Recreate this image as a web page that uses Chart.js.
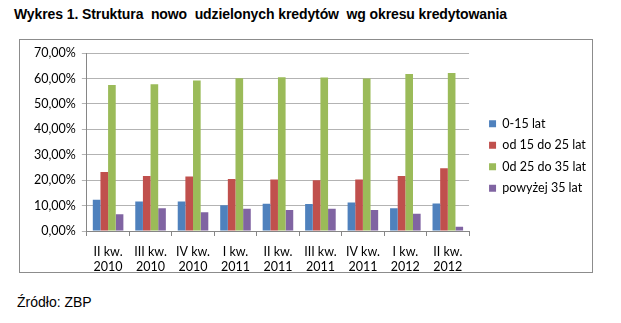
<!DOCTYPE html>
<html>
<head>
<meta charset="utf-8">
<script src="https://cdn.jsdelivr.net/npm/chart.js@4"></script>
<style>
  body { margin: 0; width: 621px; height: 323px; background: #fff; position: relative; overflow: hidden; font-family: "Liberation Sans", Arial, sans-serif; }
  #tytul { position: absolute; left: 14px; top: 6px; font-size: 14px; letter-spacing: -0.1px; font-weight: bold; color: #000; white-space: pre; }
  #ramka { position: absolute; left: 19px; top: 39px; width: 572px; height: 232px; border: 1px solid #8c8c8c; background: #fff; }
  #zrodlo { position: absolute; left: 17px; top: 294px; font-size: 14px; color: #000; }
</style>
</head>
<body>
<div id="tytul">Wykres 1. Struktura  nowo  udzielonych kredytów  wg okresu kredytowania</div>
<div id="ramka"><canvas id="wykres" width="572" height="232"></canvas></div>
<div id="zrodlo">Źródło: ZBP</div>
<script>
// kwartały i udziały (%)
const kwartaly = [
  ['II kw.', '2010'], ['III kw.', '2010'], ['IV kw.', '2010'],
  ['I kw.', '2011'], ['II kw.', '2011'], ['III kw.', '2011'],
  ['IV kw.', '2011'], ['I kw.', '2012'], ['II kw.', '2012']
];
const do15 = [12.3, 11.6, 11.6, 10.1, 10.7, 10.6, 11.2, 9.0, 10.8];
const od15do25 = [23.2, 21.7, 21.5, 20.5, 20.3, 20.0, 20.3, 21.7, 24.7];
const od25do35 = [57.5, 57.8, 59.2, 60.1, 60.5, 60.4, 60.0, 61.8, 62.2];
const powyzej35 = [6.6, 9.0, 7.4, 8.8, 8.3, 8.8, 8.3, 6.8, 1.7];
const yTicks = [0, 10, 20, 30, 40, 50, 60, 70];

const fontWykres = { family: 'Lato, "Open Sans", sans-serif', size: 12.5, lineHeight: 1.15 };

// legenda w Excelu stoi trochę wyżej i dalej w prawo niż domyślnie w Chart.js
const przesunLegende = {
  id: 'przesunLegende',
  afterLayout(chart) {
    const l = chart.legend;
    l.left += 11; l.right += 11;
    l.top -= 6; l.bottom -= 6;
  }
};

new Chart(document.getElementById('wykres').getContext('2d'), {
  type: 'bar',
  data: {
    labels: kwartaly,
    datasets: [
      { label: '0-15 lat', data: do15, backgroundColor: '#4f81bd' },
      { label: 'od 15 do 25 lat', data: od15do25, backgroundColor: '#c0504d' },
      { label: '0d 25 do 35 lat', data: od25do35, backgroundColor: '#9bbb59' },
      { label: 'powyżej 35 lat', data: powyzej35, backgroundColor: '#8064a2' }
    ]
  },
  plugins: [przesunLegende],
  options: {
    responsive: false,
    animation: false,
    layout: { padding: { left: 8, top: 12, right: 7, bottom: 0 } },
    datasets: { bar: { categoryPercentage: 0.72, barPercentage: 1 } },
    plugins: {
      tooltip: { enabled: false },
      legend: {
        position: 'right',
        labels: { boxWidth: 7, boxHeight: 7, padding: 9, color: '#000', font: fontWykres }
      }
    },
    scales: {
      x: {
        afterFit: s => { s.height = 41; },
        grid: { drawOnChartArea: false, offset: true, tickLength: 5, color: '#868686' },
        border: { color: '#868686' },
        ticks: { color: '#000', font: fontWykres, maxRotation: 0, padding: 9 }
      },
      y: {
        min: 0, max: 70,
        afterBuildTicks: axis => { axis.ticks = yTicks.map(v => ({ value: v })); },
        grid: { color: '#b3b3b3', tickLength: 5 },
        border: { color: '#868686' },
        ticks: {
          color: '#000', font: fontWykres, padding: 6,
          callback: v => v.toFixed(2).replace('.', ',') + '%'
        }
      }
    }
  }
});
</script>
</body>
</html>
